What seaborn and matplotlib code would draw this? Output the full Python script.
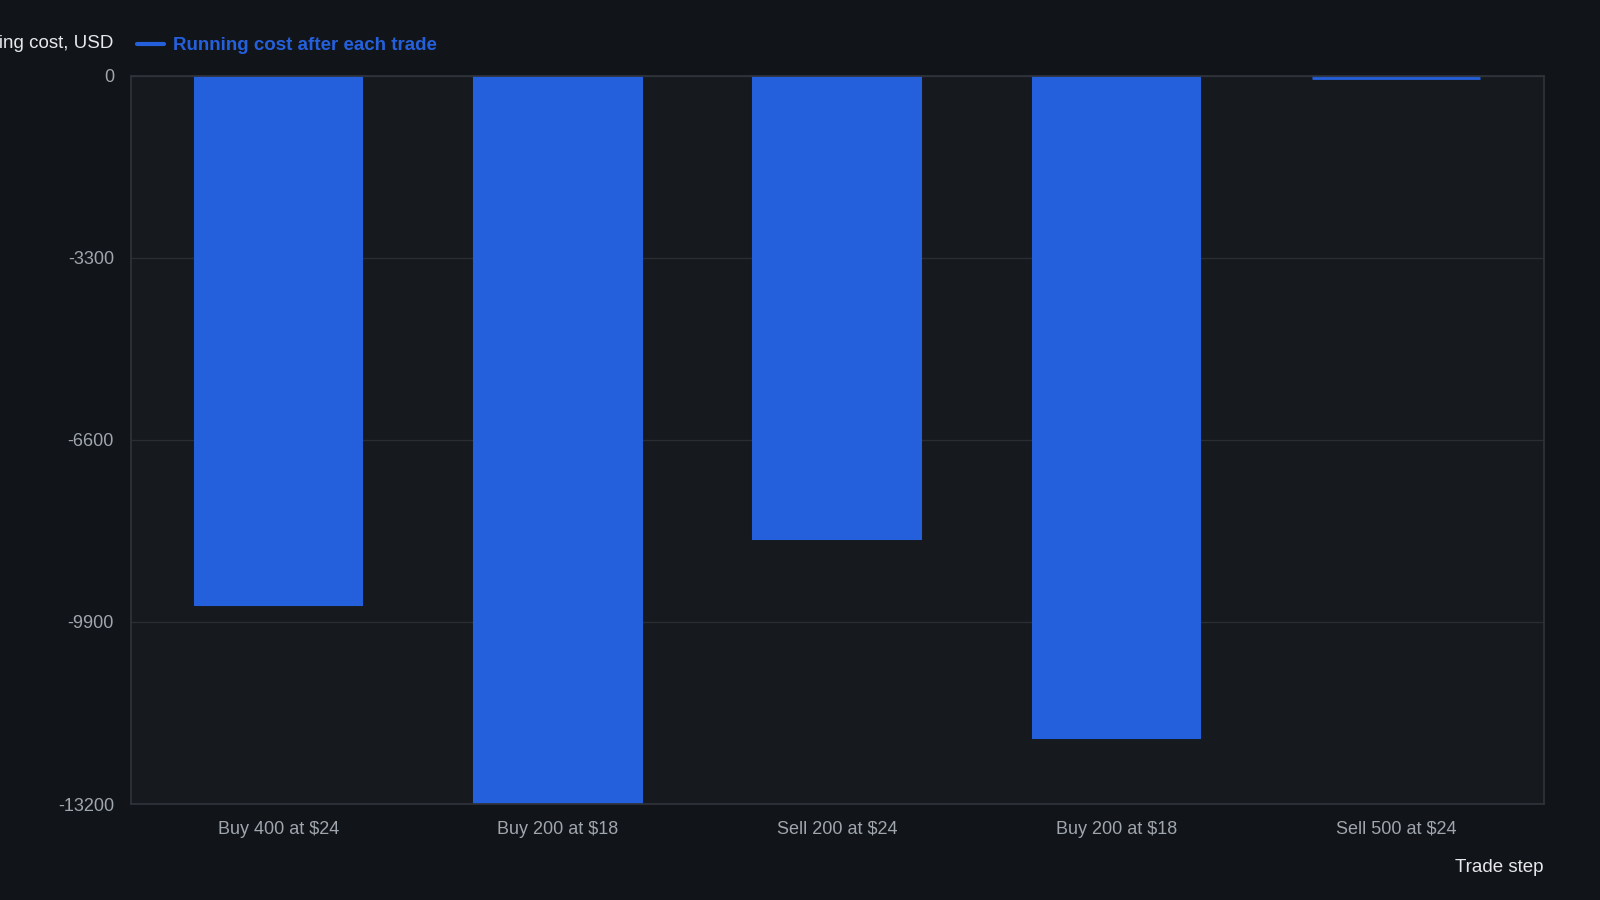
import pandas as pd
import seaborn as sns
import matplotlib.pyplot as plt
from matplotlib.lines import Line2D

# running cost after each trade
trade_steps = ['Buy 400 at $24', 'Buy 200 at $18', 'Sell 200 at $24', 'Buy 200 at $18', 'Sell 500 at $24']
running_cost = [-9600, -13200, -8400, -12000, 0]
y_ticks = [0, -3300, -6600, -9900, -13200]

BG = '#111418'
PANEL = '#16191d'
BLUE = '#2560dc'
W, H = 1568, 882

df = pd.DataFrame({'step': range(len(trade_steps)), 'cost': running_cost})

sns.set_theme(style='dark')
plt.rcParams['font.family'] = ['Liberation Sans', 'DejaVu Sans']

fig = plt.figure(figsize=(16, 9), dpi=100, facecolor=BG)
ax = fig.add_axes([128 / W, 1 - 788 / H, (1513 - 128) / W, (788 - 74) / H])
ax.set_facecolor(PANEL)

sns.barplot(data=df, x='step', y='cost', color=BLUE, saturation=1, width=0.6,
            edgecolor=BLUE, linewidth=1.5, ax=ax)
# zero-height bar still shows as a thin line
for i, v in enumerate(running_cost):
    if v == 0:
        ax.hlines(-40, i - 0.3, i + 0.3, color=BLUE, linewidth=2)

ax.set_ylim(-13200, 0)
ax.set_yticks(y_ticks)
ax.set_yticklabels([str(t) for t in y_ticks])
ax.set_xticks(range(len(trade_steps)))
ax.set_xticklabels(trade_steps)
ax.tick_params(colors='#a0a6ae', labelsize=13, length=0, pad=12)
ax.grid(axis='y', color='#2a2e34', linewidth=1)
ax.set_axisbelow(True)
for s in ax.spines.values():
    s.set_color('#2f333a')
ax.set_xlabel('')
ax.set_ylabel('')

fig.text(111 / W, 1 - 43 / H, 'Running cost, USD', ha='right', va='center',
         color='#e6e8eb', fontsize=13.5)
fig.text(1513 / W, 1 - 850 / H, 'Trade step', ha='right', va='center',
         color='#e6e8eb', fontsize=13.5)

handle = Line2D([0], [0], color=BLUE, linewidth=3)
fig.legend([handle], ['Running cost after each trade'], loc='center left',
           bbox_to_anchor=(118 / W, 1 - 45 / H), frameon=False, handlelength=1.4,
           handletextpad=0.5, prop={'size': 13.5, 'weight': 'bold'}, labelcolor=BLUE)

plt.savefig('out.png', facecolor=BG)
